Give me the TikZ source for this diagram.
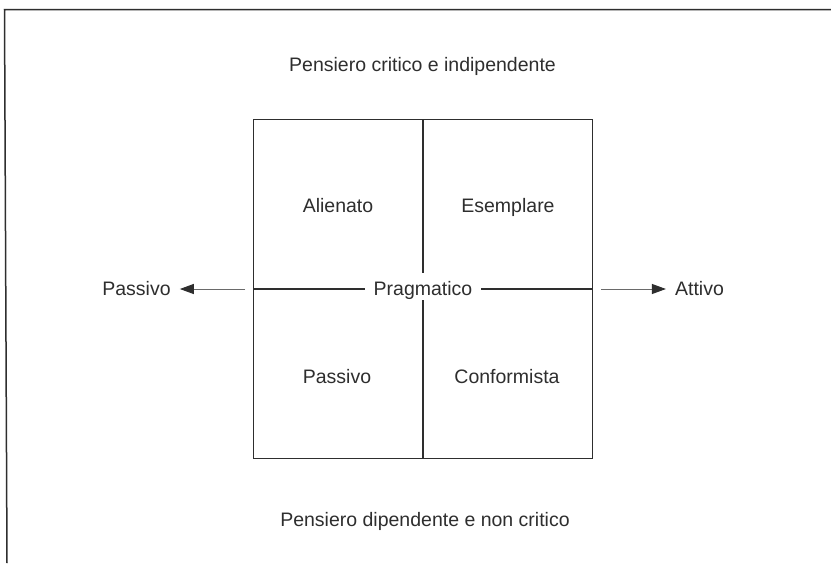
\documentclass[tikz,border=0pt]{standalone}
\usepackage{fontspec}
\setmainfont{Liberation Sans}
\usetikzlibrary{arrows.meta}
\definecolor{ink}{HTML}{2E2E2E}
\definecolor{lgray}{HTML}{6A6A6A}
\begin{document}
\begin{tikzpicture}[x=1pt,y=-1pt,
  lbl/.style={font=\fontsize{19.5}{23}\selectfont, text=ink, inner sep=0pt, anchor=base},
  frameline/.style={draw=ink, line width=1.5pt},
  boxline/.style={draw=ink, line width=1.5pt},
  arrline/.style={draw=lgray, line width=1pt, -{Triangle[length=14pt,width=10pt,color=ink]}}]
\useasboundingbox (0,0) rectangle (831,563);
\fill[white] (0,0) rectangle (831,563);
% frame
\draw[frameline] (831,9.5) -- (4.5,9.5) -- (7,563);
% box
\draw[boxline] (253.3,119.3) rectangle (592.3,458.3);
\draw[boxline] (423,119.3) -- (423,458.3);
\draw[boxline] (253.3,289) -- (592.3,289);
\node[lbl, fill=white, inner xsep=9pt, text height=22.3pt, text depth=4.3pt] (prag) at (423,295.5) {Pragmatico};
% titles
\node[lbl] (top) at (422.5,71) {Pensiero critico e indipendente};
\node[lbl] (bot) at (425,526) {Pensiero dipendente e non critico};
% quadrants
\node[lbl] (alien) at (338,212) {Alienato};
\node[lbl] (esem) at (508,212) {Esemplare};
\node[lbl] (pasq) at (337,383) {Passivo};
\node[lbl] (conf) at (507,383) {Conformista};
% side labels
\node[lbl] (pasL) at (136.5,295.5) {Passivo};
\node[lbl] (att) at (699.5,295.5) {Attivo};
\coordinate (aL) at (245,289);
\coordinate (aR) at (601,289);
\draw[arrline] (aL) -- ([xshift=9pt]pasL.east |- aL);
\draw[arrline] (aR) -- ([xshift=-9pt]att.west |- aR);
\end{tikzpicture}
\end{document}
